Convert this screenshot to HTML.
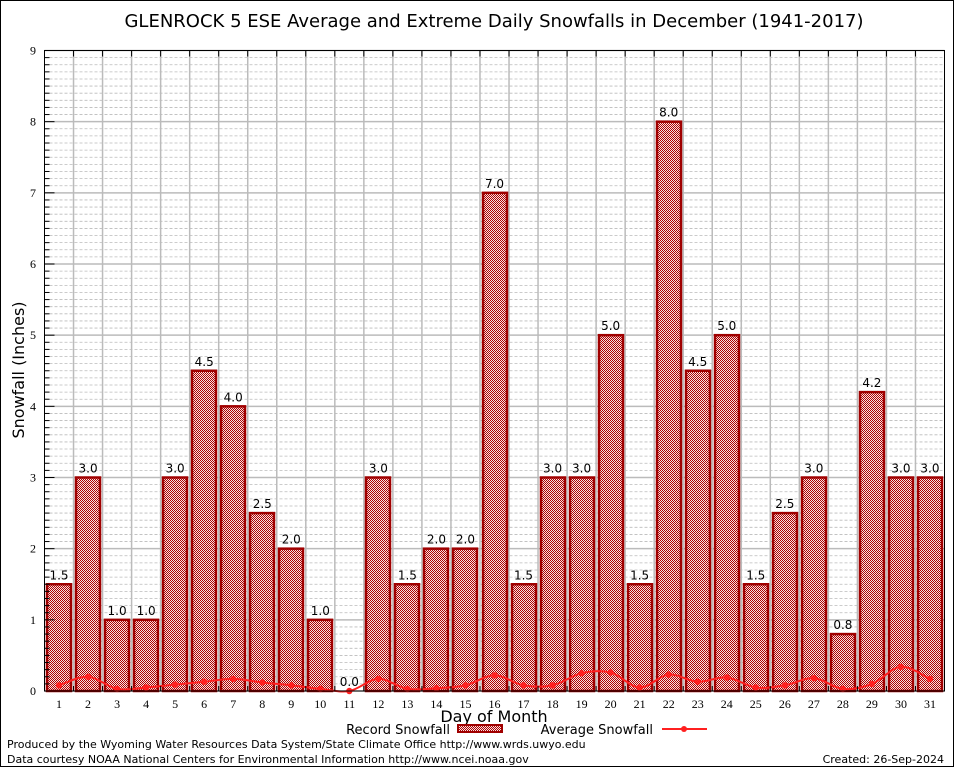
<!DOCTYPE html>
<html><head><meta charset="utf-8"><style>
body{margin:0;background:#fff}
svg{display:block}
</style></head><body>
<svg id="c" width="954" height="768" xmlns="http://www.w3.org/2000/svg" font-family="'DejaVu Sans',sans-serif">
<defs>
<pattern id="chk" x="0" y="0" width="2" height="2" patternUnits="userSpaceOnUse">
<rect width="2" height="2" fill="#f4e4e4" shape-rendering="crispEdges"/>
<rect width="1" height="1" fill="#b00000" shape-rendering="crispEdges"/>
<rect x="1" y="1" width="1" height="1" fill="#b00000" shape-rendering="crispEdges"/>
</pattern>
</defs>
<rect x="0.5" y="0.5" width="953" height="766" fill="#fff" stroke="#000"/>
<text x="494" y="27" font-size="18" text-anchor="middle">GLENROCK 5 ESE Average and Extreme Daily Snowfalls in December (1941-2017)</text>
<g id="grid"></g>
<g id="bars"></g>
<g id="line"></g>
<rect x="44.5" y="50.5" width="900" height="640.5" fill="none" stroke="#000"/>
<g id="axes"></g>
<text transform="translate(24,370) rotate(-90)" font-size="16" text-anchor="middle">Snowfall (Inches)</text>
<text x="494" y="722" font-size="16" text-anchor="middle">Day of Month</text>
<g>
<text x="450" y="734" font-size="13" text-anchor="end">Record Snowfall</text>
<rect x="458" y="725" width="44" height="7" fill="url(#chk)" stroke="#a00000" stroke-width="2"/>
<text x="653" y="734" font-size="13" text-anchor="end">Average Snowfall</text>
<line x1="662" y1="729" x2="707" y2="729" stroke="#ff2020" stroke-width="2"/>
<circle cx="684" cy="729" r="3" fill="#ff2020"/>
</g>
<text x="7" y="748" font-size="11">Produced by the Wyoming Water Resources Data System/State Climate Office http://www.wrds.uwyo.edu</text>
<text x="7" y="763" font-size="11">Data courtesy NOAA National Centers for Environmental Information http://www.ncei.noaa.gov</text>
<text x="944" y="763" font-size="11" text-anchor="end">Created: 26-Sep-2024</text>
</svg>
<script>
const days=[1,2,3,4,5,6,7,8,9,10,11,12,13,14,15,16,17,18,19,20,21,22,23,24,25,26,27,28,29,30,31];
const recordSnow=[1.5,3.0,1.0,1.0,3.0,4.5,4.0,2.5,2.0,1.0,0.0,3.0,1.5,2.0,2.0,7.0,1.5,3.0,3.0,5.0,1.5,8.0,4.5,5.0,1.5,2.5,3.0,0.8,4.2,3.0,3.0];
const avgSnow=[0.08,0.2,0.03,0.05,0.09,0.13,0.17,0.12,0.08,0.03,0.0,0.17,0.03,0.04,0.08,0.22,0.08,0.08,0.25,0.26,0.05,0.23,0.13,0.19,0.05,0.08,0.18,0.03,0.1,0.34,0.17];
const yTicks=[0,1,2,3,4,5,6,7,8,9];
const NS='http://www.w3.org/2000/svg';
const L=44.5,R=944.5,T=50.5,B=691;
const step=(R-L)/31;
function xS(d){return L+step*(d-0.5);}
function yS(v){return B-(B-T)*v/9;}
function mk(t,a,p){const e=document.createElementNS(NS,t);for(const k in a)e.setAttribute(k,a[k]);p.appendChild(e);return e;}
const grid=document.getElementById('grid'),axes=document.getElementById('axes');
for(let v=0;v<9;v+=0.1){const vv=Math.round(v*10)/10;if(Math.abs(vv-Math.round(vv))<1e-9)continue;
const ln=mk('line',{x1:L,x2:R,y1:yS(vv),y2:yS(vv),stroke:'#bbb','stroke-dasharray':'3,2','stroke-width':0.8},grid);


const tk=mk('line',{x1:L,x2:L+5,y1:yS(vv),y2:yS(vv),stroke:'#000'},axes);

}
yTicks.forEach(v=>{
const ln=mk('line',{x1:L,x2:R,y1:yS(v),y2:yS(v),stroke:'#bbb','stroke-width':1.5},grid);


const tk=mk('line',{x1:L,x2:L+10,y1:yS(v),y2:yS(v),stroke:'#000'},axes);


const t=mk('text',{x:36,y:yS(v)+4,'font-size':12,'text-anchor':'end','font-family':"'Liberation Serif',serif"},axes);t.textContent=v;

});
for(let i=1;i<31;i++){const x=L+step*i;
const ln=mk('line',{x1:x,x2:x,y1:T,y2:B,stroke:'#bbb','stroke-width':1.5},grid);


const tk=mk('line',{x1:x,x2:x,y1:T,y2:T+6,stroke:'#000'},axes);


const tb=mk('line',{x1:x,x2:x,y1:B,y2:B-5,stroke:'#000'},axes);

}
const bars=document.getElementById('bars');
days.forEach((d,i)=>{
const v=recordSnow[i],bw=24,x=Math.round(xS(d)-bw/2),y=yS(v);
if(v>0){const r=mk('rect',{x:x,y:y,width:bw,height:B-y,fill:'url(#chk)',stroke:'#a00000','stroke-width':2.5},bars);

}
const t=mk('text',{x:xS(d),y:y-5,'font-size':12,'text-anchor':'middle'},bars);t.textContent=v.toFixed(1);


const xl=mk('text',{x:xS(d),y:708,'font-size':12,'text-anchor':'middle','font-family':"'Liberation Serif',serif"},axes);xl.textContent=d;

});
const lg=document.getElementById('line');
const pts=days.map((d,i)=>[xS(d),yS(avgSnow[i])]);
let dStr='M'+pts[0][0]+','+pts[0][1];
for(let i=0;i<pts.length-1;i++){const p0=pts[Math.max(0,i-1)],p1=pts[i],p2=pts[i+1],p3=pts[Math.min(pts.length-1,i+2)];
const c1=[p1[0]+(p2[0]-p0[0])/6,p1[1]+(p2[1]-p0[1])/6],c2=[p2[0]-(p3[0]-p1[0])/6,p2[1]-(p3[1]-p1[1])/6];
dStr+=' C'+c1+' '+c2+' '+p2;}
const path=mk('path',{d:dStr,fill:'none',stroke:'#ff2020','stroke-width':2},lg);


pts.forEach((p,i)=>{const c=mk('circle',{cx:p[0],cy:p[1],r:3.2,fill:'#ff2020'},lg);

});
</script>
</body></html>
